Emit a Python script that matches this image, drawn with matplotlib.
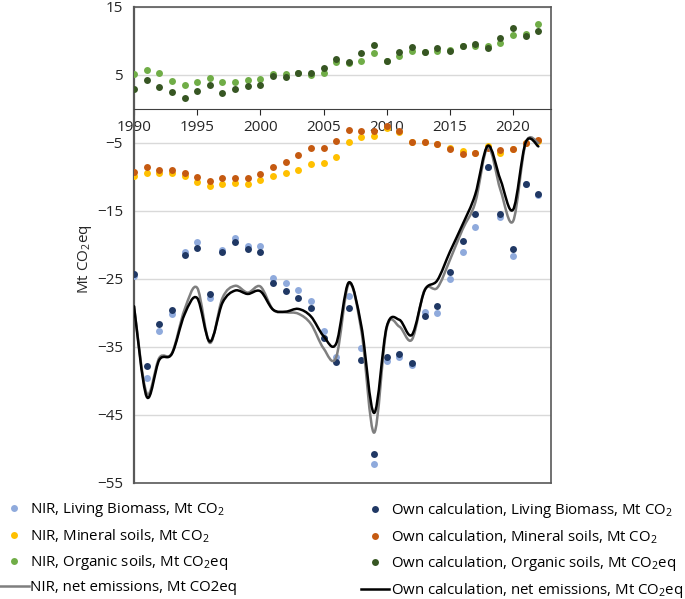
import numpy as np
import matplotlib
matplotlib.use('Agg')
import matplotlib.pyplot as plt
from matplotlib.path import Path
from matplotlib.patches import PathPatch
from matplotlib.lines import Line2D

plt.rcParams['font.family'] = ['Open Sans', 'DejaVu Sans']
plt.rcParams['mathtext.fontset'] = 'custom'
plt.rcParams['mathtext.rm'] = 'Open Sans'
plt.rcParams['mathtext.it'] = 'Open Sans'

# Jahre
years = np.arange(1990, 2023)

# Living Biomass (Mt CO2)
nir_lb = [-24.5, -39.5, -32.7, -30.1, -21.0, -19.6, -27.8, -20.8, -19.0, -20.1, -20.2,
          -24.8, -25.6, -26.6, -28.3, -32.6, -36.4, -27.5, -35.2, -52.2, -37.0, -36.4,
          -37.7, -29.8, -30.0, -25.0, -21.0, -17.4, -8.6, -15.9, -21.6, -11.0, -12.6]
own_lb = [-24.2, -37.8, -31.6, -29.6, -21.5, -20.4, -27.2, -21.1, -19.5, -20.6, -21.0,
          -25.6, -26.7, -27.8, -29.3, -33.7, -37.2, -29.3, -36.9, -50.7, -36.5, -36.1,
          -37.3, -30.5, -29.0, -23.9, -19.4, -15.4, -8.6, -15.4, -20.6, -11.0, -12.5]

# Mineral soils (Mt CO2)
nir_min = [-9.8, -9.4, -9.4, -9.4, -9.9, -10.7, -11.3, -11.1, -10.9, -11.0, -10.4,
           -9.8, -9.4, -8.9, -8.1, -7.9, -7.0, -4.85, -4.1, -3.9, -2.8, -3.4,
           -4.8, -4.8, -5.2, -5.7, -6.2, -6.5, -5.5, -6.5, -5.9, -5.0, -4.65]
own_min = [-9.3, -8.6, -8.9, -8.9, -9.4, -10.0, -10.6, -10.2, -10.1, -10.1, -9.5,
           -8.6, -7.8, -6.8, -5.8, -5.7, -4.7, -3.1, -3.2, -3.2, -2.45, -3.3,
           -4.8, -4.8, -5.2, -5.9, -6.6, -6.5, -5.7, -6.0, -5.9, -5.0, -4.6]

# Organic soils (Mt CO2eq)
nir_org = [5.2, 5.7, 5.3, 4.1, 3.5, 3.9, 4.5, 3.9, 4.0, 4.3, 4.4,
           5.2, 5.1, 5.3, 5.0, 5.3, 6.9, 6.8, 7.1, 8.3, 7.1, 7.8,
           8.5, 8.4, 8.6, 8.7, 9.3, 9.3, 9.3, 9.7, 10.9, 11.0, 12.5]
own_org = [3.0, 4.3, 3.2, 2.5, 1.6, 2.6, 3.6, 2.4, 2.9, 3.4, 3.6,
           4.8, 4.7, 5.3, 5.3, 6.1, 7.4, 6.9, 8.2, 9.4, 7.0, 8.4,
           9.1, 8.4, 9.0, 8.6, 9.3, 9.6, 9.0, 10.4, 11.9, 10.8, 11.5]

# Netto-Emissionen (Mt CO2eq)
nir_net = [-29.0, -41.8, -36.6, -35.9, -29.5, -26.3, -34.4, -27.8, -26.0, -27.0, -26.1,
           -29.5, -29.9, -30.1, -31.6, -35.2, -36.5, -25.7, -32.7, -47.6, -32.2, -32.0,
           -33.9, -26.6, -26.3, -22.2, -17.7, -13.8, -5.6, -11.9, -16.5, -5.0, -5.0]
own_net = [-29.0, -42.3, -36.9, -36.0, -30.2, -27.8, -34.2, -28.5, -26.7, -27.2, -26.8,
           -29.5, -29.8, -29.4, -30.5, -33.4, -34.5, -25.5, -32.0, -44.7, -32.0, -31.0,
           -33.2, -26.7, -25.2, -21.0, -17.0, -12.6, -5.4, -10.4, -14.8, -4.9, -5.5]

c_nir_lb, c_own_lb = '#8FAADC', '#203864'
c_nir_min, c_own_min = '#FFC000', '#C55A11'
c_nir_org, c_own_org = '#70AD47', '#375623'
c_nir_net, c_own_net = '#7F7F7F', '#000000'


def smooth_path(x, y):
    # geglaettete Linie wie in Excel (Bezier durch alle Punkte)
    pts = np.column_stack([x, y]).astype(float)
    n = len(pts)
    verts = [pts[0]]
    codes = [Path.MOVETO]
    for i in range(n - 1):
        p0 = pts[max(i - 1, 0)]
        p1 = pts[i]
        p2 = pts[i + 1]
        p3 = pts[min(i + 2, n - 1)]
        verts += [p1 + (p2 - p0) / 6, p2 - (p3 - p1) / 6, p2]
        codes += [Path.CURVE4] * 3
    return Path(verts, codes)


fig = plt.figure(figsize=(6.85, 5.99), dpi=100)
ax = fig.add_axes([134 / 685, 1 - 483 / 599, 417 / 685, 476 / 599])

ms = 5
ax.plot(years, nir_lb, 'o', color=c_nir_lb, ms=ms, mec='none', zorder=3)
ax.plot(years, own_lb, 'o', color=c_own_lb, ms=ms, mec='none', zorder=3)
ax.plot(years, nir_min, 'o', color=c_nir_min, ms=ms, mec='none', zorder=3)
ax.plot(years, own_min, 'o', color=c_own_min, ms=ms, mec='none', zorder=3)
ax.plot(years, nir_org, 'o', color=c_nir_org, ms=ms, mec='none', zorder=3)
ax.plot(years, own_org, 'o', color=c_own_org, ms=ms, mec='none', zorder=3)

ax.add_patch(PathPatch(smooth_path(years, nir_net), facecolor='none', edgecolor=c_nir_net,
                       lw=1.8, joinstyle='round', capstyle='round', zorder=4))
ax.add_patch(PathPatch(smooth_path(years, own_net), facecolor='none', edgecolor=c_own_net,
                       lw=1.8, joinstyle='round', capstyle='round', zorder=5))

ax.set_xlim(1990, 2023)
ax.set_ylim(-55, 15)
ax.set_yticks(np.arange(-55, 16, 10))
ax.set_xticks(np.arange(1990, 2021, 5))
ax.grid(True, axis='y', color='#D9D9D9', lw=1, zorder=0)
ax.set_axisbelow(True)

# x-Achse bei y=0
ax.spines['bottom'].set_position(('data', 0))
ax.spines['bottom'].set_color('#404040')
ax.axhline(-55, color='#595959', lw=1.2, zorder=6, clip_on=False)
for s in ['top', 'right']:
    ax.spines[s].set_color('#595959')
    ax.spines[s].set_linewidth(1.2)
ax.spines['left'].set_color('#595959')
ax.spines['left'].set_linewidth(1.6)
ax.tick_params(axis='x', direction='out', length=4, pad=4, labelsize=11,
               colors='#262626')
ax.tick_params(axis='y', length=0, pad=8, labelsize=11, labelcolor='#262626')
for lab in ax.get_xticklabels():
    lab.set_zorder(10)

ax.set_ylabel('Mt CO$_2$eq', fontsize=11, color='#262626')
ax.yaxis.set_label_coords(-0.097, 0.47)

# Legende in zwei Spalten
h_left = [Line2D([], [], ls='none', marker='o', ms=ms, mec='none', color=c_nir_lb),
          Line2D([], [], ls='none', marker='o', ms=ms, mec='none', color=c_nir_min),
          Line2D([], [], ls='none', marker='o', ms=ms, mec='none', color=c_nir_org),
          Line2D([], [], color=c_nir_net, lw=1.8)]
l_left = ['NIR, Living Biomass, Mt CO$_2$', 'NIR, Mineral soils, Mt CO$_2$',
          'NIR, Organic soils, Mt CO$_2$eq', 'NIR, net emissions, Mt CO2eq']
h_right = [Line2D([], [], ls='none', marker='o', ms=ms, mec='none', color=c_own_lb),
           Line2D([], [], ls='none', marker='o', ms=ms, mec='none', color=c_own_min),
           Line2D([], [], ls='none', marker='o', ms=ms, mec='none', color=c_own_org),
           Line2D([], [], color=c_own_net, lw=1.8)]
l_right = ['Own calculation, Living Biomass, Mt CO$_2$',
           'Own calculation, Mineral soils, Mt CO$_2$',
           'Own calculation, Organic soils, Mt CO$_2$eq',
           'Own calculation, net emissions, Mt CO$_2$eq']

kw = dict(loc='upper left', frameon=False, fontsize=10.8, handlelength=1.9,
          handletextpad=0.1, labelspacing=0.55, borderpad=0, borderaxespad=0)
fig.legend(h_left, l_left, bbox_to_anchor=(0.0, 1 - 501 / 599), **kw)
fig.legend(h_right, l_right, bbox_to_anchor=(361 / 685, 1 - 501 / 599), **kw)

fig.savefig('out.png', dpi=100)
